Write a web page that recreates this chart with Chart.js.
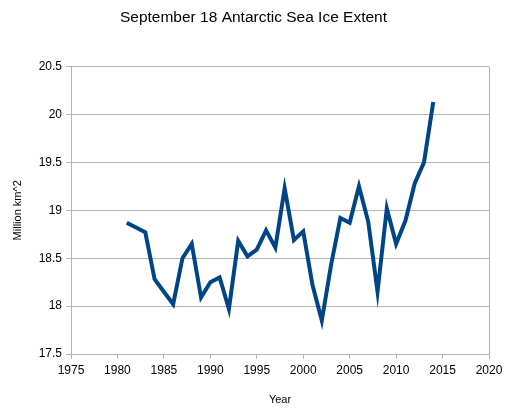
<!DOCTYPE html>
<html>
<head>
<meta charset="utf-8">
<title>September 18 Antarctic Sea Ice Extent</title>
<script src="https://cdn.jsdelivr.net/npm/chart.js@4/dist/chart.umd.min.js"></script>
<style>
	html, body { margin: 0; padding: 0; background: #fff; }
	#wrap { width: 507px; height: 415px; position: relative; }
</style>
</head>
<body>
<div id="wrap"><canvas id="iceChart"></canvas></div>
<script>
const $ = (id) => document.getElementById(id);

// --- Data ---
const years = [
	1981, 1982, 1983, 1984, 1985, 1986, 1987, 1988, 1989, 1990,
	1991, 1992, 1993, 1994, 1995, 1996, 1997, 1998, 1999, 2000,
	2001, 2002, 2003, 2004, 2005, 2006, 2007, 2008, 2009, 2010,
	2011, 2012, 2013, 2014,
];
const extent = [
	18.87, 18.82, 18.77, 18.28, 18.15, 18.02, 18.50, 18.65, 18.09, 18.25,
	18.30, 17.97, 18.68, 18.52, 18.59, 18.79, 18.61, 19.23, 18.69, 18.78,
	18.22, 17.85, 18.43, 18.92, 18.87, 19.25, 18.88, 18.15, 19.02, 18.65,
	18.89, 19.28, 19.50, 20.13,
];
const xRange = [1975, 2020];
const xStep = 5;
const yRange = [17.5, 20.5];
const yStep = 0.5;

const chartTitle = 'September 18 Antarctic Sea Ice Extent';
const xTitle = 'Year';
const yTitle = 'Million km^2';

// --- Chart ---

const gridColor = '#b3b3b3';
const fontFamily = '"Liberation Sans", Arial, sans-serif';

Chart.defaults.font.family = fontFamily;
Chart.defaults.color = '#000';

const points = years.map((y, i) => ({ x: y, y: extent[i] }));

new Chart($('iceChart').getContext('2d'), {
	type: 'line',
	data: {
		datasets: [
			{
				label: 'Extent',
				data: points,
				borderColor: '#004586',
				borderWidth: 4,
				borderJoinStyle: 'miter',
				pointRadius: 0,
				tension: 0,
				fill: false,
			},
		],
	},
	options: {
		responsive: true,
		maintainAspectRatio: false,
		animation: false,
		layout: { padding: 0 },
		plugins: {
			legend: { display: false },
			tooltip: { enabled: false },
			title: {
				display: true,
				text: chartTitle,
				font: { size: 15.5, weight: 'normal' },
				padding: { top: 8, bottom: 40 },
			},
		},
		scales: {
			x: {
				type: 'linear',
				min: xRange[0],
				max: xRange[1],
				ticks: {
					stepSize: xStep,
					font: { size: 12 },
					padding: 4,
					maxRotation: 0,
					callback: (v) => String(v),
				},
				// only the right edge gets a vertical line, like the original frame
				grid: {
					color: (c) => (c.tick && c.tick.value === xRange[1] ? gridColor : 'rgba(0,0,0,0)'),
					tickColor: gridColor,
					tickLength: 5,
				},
				border: { color: gridColor },
				title: {
					display: true,
					text: xTitle,
					font: { size: 11 },
					padding: { top: 0, bottom: 8 },
				},
				afterFit: (scale) => {
					scale.height = 61;
					scale.paddingRight = 18;
				},
			},
			y: {
				min: yRange[0],
				max: yRange[1],
				ticks: {
					stepSize: yStep,
					font: { size: 12 },
					padding: 4,
					callback: (v) => String(v),
				},
				grid: { color: gridColor, tickColor: gridColor, tickLength: 5 },
				border: { color: gridColor },
				title: {
					display: true,
					text: yTitle,
					font: { size: 11 },
					padding: { top: 11, bottom: 0 },
				},
				afterFit: (scale) => {
					scale.width = 71;
				},
			},
		},
	},
});
</script>
</body>
</html>
